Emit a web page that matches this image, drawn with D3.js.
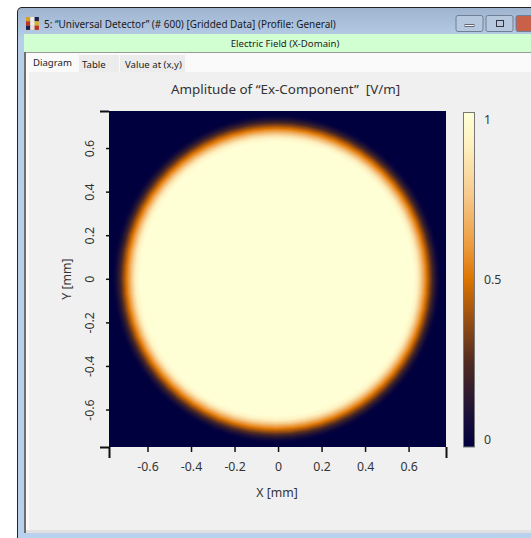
<!DOCTYPE html>
<html>
<head>
<meta charset="utf-8">
<script src="https://cdn.jsdelivr.net/npm/d3@7"></script>
<style>
    html, body { margin: 0; padding: 0; background: #fff; overflow: hidden; }
    text { font-family: "Noto Sans", "Open Sans", sans-serif; fill: #333; }
    .domain { display: none; }
</style>
</head>
<body>
<svg id="chart" width="531" height="538"></svg>
<script>
// data
var axisTicks = [-0.6, -0.4, -0.2, 0, 0.2, 0.4, 0.6];
var xExtent = [-0.777, 0.772];
var yExtent = [-0.772, 0.77];

// radial amplitude profile of the disc
var discCenter = [-0.007, 0];
var profileRadius = [0.755, 0.75, 0.745, 0.74, 0.735, 0.73, 0.725, 0.72, 0.715, 0.71, 0.705, 0.7, 0.695, 0.69, 0.685, 0.68, 0.675, 0.67, 0.665, 0.66, 0.655, 0.65, 0.645, 0.64, 0.635, 0.63, 0.625];
var profileAmplitude = [0.01, 0.02, 0.04, 0.07, 0.1, 0.14, 0.18, 0.23, 0.28, 0.33, 0.38, 0.43, 0.48, 0.53, 0.58, 0.63, 0.68, 0.73, 0.78, 0.83, 0.87, 0.91, 0.94, 0.96, 0.98, 0.99, 1];

// colour table
var colorStops = [0, 0.1, 0.25, 0.4, 0.5, 0.6, 0.75, 0.9, 1];
var colorValues = ["#00003f", "#1c1138", "#4f2a22", "#a25410", "#dc7400", "#ec9a3c", "#f6c98a", "#fdf0c0", "#ffffd6"];
var colorTicks = [0, 0.5, 1];

var svg = d3.select("#chart");

// window frame
svg.append("rect").attr("x", 17).attr("y", 7).attr("width", 530).attr("height", 540).attr("rx", 5).attr("fill", "#222");
var defs = svg.append("defs");
var frameGrad = defs.append("linearGradient").attr("id", "frameGrad").attr("x1", 0).attr("x2", 0).attr("y1", 0).attr("y2", 1);
frameGrad.append("stop").attr("offset", 0).attr("stop-color", "#9fb4cf");
frameGrad.append("stop").attr("offset", 0.06).attr("stop-color", "#b8cfe9");
frameGrad.append("stop").attr("offset", 1).attr("stop-color", "#b8d1ec");
svg.append("rect").attr("x", 18).attr("y", 8).attr("width", 530).attr("height", 540).attr("rx", 4).attr("fill", "url(#frameGrad)");

svg.append("rect").attr("x", 24).attr("y", 34).attr("width", 507).attr("height", 18).attr("fill", "#d2ffd2");
svg.append("rect").attr("x", 24).attr("y", 52).attr("width", 507).attr("height", 481).attr("fill", "#fafafa");
svg.append("rect").attr("x", 24).attr("y", 52).attr("width", 507).attr("height", 1).attr("fill", "#9a9a9a");
svg.append("rect").attr("x", 24).attr("y", 52).attr("width", 2).attr("height", 481).attr("fill", "#6f6f6f");
svg.append("rect").attr("x", 29).attr("y", 72).attr("width", 502).attr("height", 458).attr("fill", "#f0f0f0");
svg.append("rect").attr("x", 26).attr("y", 530).attr("width", 505).attr("height", 3).attr("fill", "#e0e0e0");

// icon
var iconColors = ["#d8a020", "#f4f0e0", "#20204a", "#c03020", "#f4f0e0", "#e0b030", "#20204a", "#e8e0d0", "#c03020"];
svg.selectAll("rect.icon").data(iconColors).enter().append("rect")
    .attr("class", "icon")
    .attr("x", function(d, i) { return 26 + (i % 3) * 4.3; })
    .attr("y", function(d, i) { return 17 + Math.floor(i / 3) * 4.3; })
    .attr("width", 4.3).attr("height", 4.3)
    .attr("fill", function(d) { return d; });

svg.append("text").attr("x", 44).attr("y", 28).attr("font-size", 9.95).style("fill", "#1a1a1a")
    .text("5: \u201CUniversal Detector\u201D (# 600) [Gridded Data] (Profile: General)");

// window buttons
var winButtons = [
    { x: 456, w: 27, fill: "#b6c8de" },
    { x: 486, w: 27, fill: "#b6c8de" },
    { x: 516, w: 30, fill: "#c9604a" }
];
svg.selectAll("rect.winbtn").data(winButtons).enter().append("rect")
    .attr("class", "winbtn")
    .attr("x", function(d) { return d.x; })
    .attr("y", 15.5).attr("width", function(d) { return d.w; }).attr("height", 16).attr("rx", 2)
    .attr("fill", function(d) { return d.fill; })
    .attr("stroke", "#6f7f95");
svg.append("rect").attr("x", 465).attr("y", 24.5).attr("width", 9).attr("height", 2).attr("fill", "#f4f6fa").attr("stroke", "#667");
svg.append("rect").attr("x", 496.5).attr("y", 20.5).attr("width", 7).attr("height", 6).attr("fill", "none").attr("stroke", "#334");

svg.append("text").attr("x", 285).attr("y", 47).attr("text-anchor", "middle").attr("font-size", 9.6).style("fill", "#222")
    .text("Electric Field (X-Domain)");

// tabs
svg.append("rect").attr("x", 79).attr("y", 55).attr("width", 40).attr("height", 17).attr("fill", "#ececec");
svg.append("rect").attr("x", 120).attr("y", 55).attr("width", 65).attr("height", 17).attr("fill", "#ececec");
var tabLabels = [
    { t: "Diagram", x: 33, y: 66 },
    { t: "Table", x: 82, y: 68 },
    { t: "Value at (x,y)", x: 125, y: 68 }
];
svg.selectAll("text.tab").data(tabLabels).enter().append("text")
    .attr("class", "tab")
    .attr("x", function(d) { return d.x; })
    .attr("y", function(d) { return d.y; })
    .attr("font-size", 9.6).style("fill", "#222")
    .text(function(d) { return d.t; });

svg.append("text").attr("x", 285.5).attr("y", 94).attr("text-anchor", "middle").attr("font-size", 13.4)
    .attr("xml:space", "preserve")
    .text("Amplitude of \u201CEx-Component\u201D  [V/m]");

// plot
var x = d3.scaleLinear().domain(xExtent).range([109, 446]);
var y = d3.scaleLinear().domain(yExtent).range([447, 111]);
var amp = d3.scaleLinear().domain(colorStops).range(colorValues);

svg.append("rect")
    .attr("x", x(xExtent[0])).attr("y", y(yExtent[1]))
    .attr("width", x(xExtent[1]) - x(xExtent[0]))
    .attr("height", y(yExtent[0]) - y(yExtent[1]))
    .attr("fill", amp(0));

// rings from outside to inside
svg.selectAll("ellipse.ring").data(profileRadius).enter().append("ellipse")
    .attr("class", "ring")
    .attr("cx", x(discCenter[0])).attr("cy", y(discCenter[1]))
    .attr("rx", function(d) { return x(d) - x(0); })
    .attr("ry", function(d) { return y(0) - y(d); })
    .attr("fill", function(d, i) { return amp(profileAmplitude[i]); });

function tickText(d) {
    return String(d);
}

function styleTicks(g, w) {
    g.selectAll("line").attr("stroke", "#111").attr("stroke-width", w);
    g.selectAll("text").attr("font-size", 12.3).style("fill", "#333");
}

var xAxis = svg.append("g").attr("transform", "translate(0,447)")
    .call(d3.axisBottom(x).tickValues(axisTicks).tickSize(5).tickPadding(10).tickFormat(tickText))
    .call(styleTicks, 1.5);
var yAxis = svg.append("g").attr("transform", "translate(109,0)")
    .call(d3.axisLeft(y).tickValues(axisTicks).tickSize(3).tickFormat(tickText))
    .call(styleTicks, 1.5);
yAxis.selectAll("text")
    .attr("text-anchor", "middle")
    .attr("dy", 0)
    .attr("x", 0).attr("y", 0)
    .attr("transform", "translate(-15,0) rotate(-90)");

// heavier ticks on the plot corners
svg.append("g").attr("transform", "translate(0,447)")
    .call(d3.axisBottom(x).tickValues(xExtent).tickSize(11).tickFormat(""))
    .call(styleTicks, 2);
svg.append("g").attr("transform", "translate(109,0)")
    .call(d3.axisLeft(y).tickValues(yExtent).tickSize(9).tickFormat(""))
    .call(styleTicks, 2);

svg.append("text").attr("x", 277).attr("y", 497).attr("text-anchor", "middle").attr("font-size", 12.3).text("X [mm]");
svg.append("text").attr("transform", "translate(71,279) rotate(-90)").attr("text-anchor", "middle").attr("font-size", 12.3).text("Y [mm]");

// colour bar
var barGrad = defs.append("linearGradient").attr("id", "barGrad").attr("x1", 0).attr("x2", 0).attr("y1", 1).attr("y2", 0);
barGrad.selectAll("stop").data(colorStops).enter().append("stop")
    .attr("offset", function(d) { return d; })
    .attr("stop-color", function(d, i) { return colorValues[i]; });
svg.append("rect").attr("x", 463.5).attr("y", 112.5).attr("width", 11).attr("height", 334.5)
    .attr("fill", "url(#barGrad)").attr("stroke", "#777");

var barLabel = d3.scaleLinear().domain([0, 1]).range([440, 120]);
svg.selectAll("text.barlabel").data(colorTicks).enter().append("text")
    .attr("class", "barlabel")
    .attr("x", 484).attr("y", function(d) { return barLabel(d); })
    .attr("dy", "0.35em").attr("font-size", 12.3)
    .text(function(d) { return d; });
</script>
</body>
</html>
